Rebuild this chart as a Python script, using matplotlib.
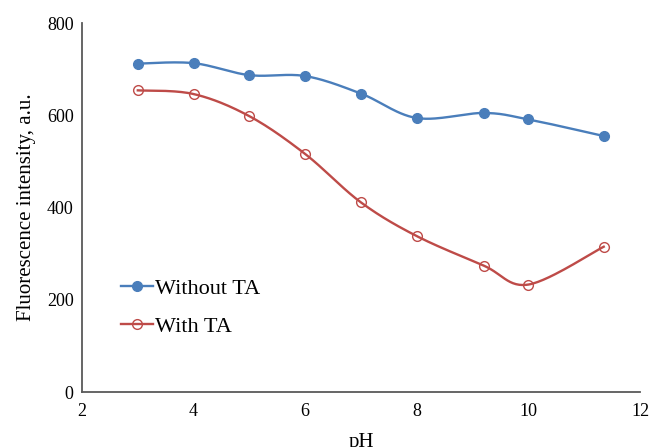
import numpy as np
import matplotlib.pyplot as plt

plt.rcParams['font.family'] = ['Liberation Serif', 'DejaVu Serif']

# pH values and fluorescence intensities
ph = [3, 4, 5, 6, 7, 8, 9.2, 10, 11.35]
without_ta = [712, 713, 687, 685, 647, 594, 605, 591, 555]
with_ta = [654, 646, 598, 516, 411, 338, 274, 233, 315]

xticks = [2, 4, 6, 8, 10, 12]
yticks = [0, 200, 400, 600, 800]


def smooth(x, y, n=30):
    # Catmull-Rom spline through the points (like Excel's smoothed line)
    x = np.asarray(x, float)
    y = np.asarray(y, float)
    px = np.concatenate([[x[0]], x, [x[-1]]])
    py = np.concatenate([[y[0]], y, [y[-1]]])
    xs, ys = [], []
    t = np.linspace(0, 1, n)
    for i in range(1, len(px) - 2):
        for p, out in ((px, xs), (py, ys)):
            p0, p1, p2, p3 = p[i - 1], p[i], p[i + 1], p[i + 2]
            out.extend(0.5 * ((2 * p1) + (-p0 + p2) * t
                              + (2 * p0 - 5 * p1 + 4 * p2 - p3) * t ** 2
                              + (-p0 + 3 * p1 - 3 * p2 + p3) * t ** 3))
    return xs, ys


blue = '#4A7EBB'
red = '#BE4B48'

fig = plt.figure(figsize=(6.54, 4.47), dpi=100)
ax = fig.add_axes([0.1254, 0.123, 0.8532, 0.8255])

sx, sy = smooth(ph, without_ta)
ax.plot(sx, sy, color=blue, lw=1.7)
sx, sy = smooth(ph, with_ta)
ax.plot(sx, sy, color=red, lw=1.7)
ax.plot(ph, without_ta, 'o', color=blue, ms=7)
ax.plot(ph, with_ta, 'o', mfc='none', mec=red, mew=1.0, ms=7)

# legend proxies
ax.plot([], [], '-o', color=blue, lw=1.7, ms=7, label='Without TA')
ax.plot([], [], '-o', color=red, mfc='none', mec=red, mew=1.0, lw=1.7, ms=7, label='With TA')
ax.legend(loc='center left', bbox_to_anchor=(0.069, 0.229), frameon=False,
          fontsize=16, handlelength=1.45, handletextpad=0.1, labelspacing=0.78,
          borderpad=0, borderaxespad=0)

ax.set_xlim(2, 12)
ax.set_ylim(0, 800)
ax.set_xticks(xticks)
ax.set_yticks(yticks)
ax.tick_params(length=0, labelsize=13, pad=6)
ax.tick_params(axis='x', pad=8)
ax.set_xlabel('pH', fontsize=15, labelpad=9)
ax.set_ylabel('Fluorescence intensity, a.u.', fontsize=15, labelpad=8)
for s in ['top', 'right']:
    ax.spines[s].set_visible(False)
for s in ['left', 'bottom']:
    ax.spines[s].set_color('#595959')
    ax.spines[s].set_linewidth(1.3)

plt.savefig('out.png', dpi=100)
